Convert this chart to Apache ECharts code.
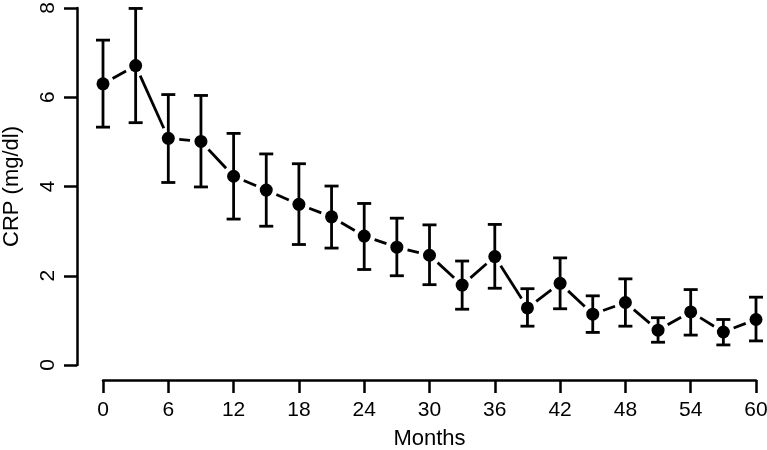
<!DOCTYPE html>
<html>
<head>
<meta charset="utf-8">
<script src="https://cdn.jsdelivr.net/npm/echarts@6/dist/echarts.min.js"></script>
<style>html,body{margin:0;padding:0;background:#fff}#c{width:767px;height:450px}</style>
</head>
<body>
<div id="c"></div>
<script>
const months = [0,3,6,9,12,15,18,21,24,27,30,33,36,39,42,45,48,51,54,57,60];
const crp    = [6.30,6.71,5.08,5.01,4.23,3.92,3.60,3.32,2.89,2.64,2.46,1.79,2.43,1.28,1.83,1.14,1.40,0.78,1.19,0.74,1.02];
const upper  = [7.28,7.99,6.06,6.04,5.19,4.73,4.51,4.01,3.62,3.29,3.14,2.33,3.15,1.71,2.40,1.55,1.93,1.06,1.69,1.02,1.52];
const lower  = [5.33,5.43,4.09,3.99,3.27,3.11,2.70,2.62,2.14,2.00,1.80,1.25,1.72,0.87,1.26,0.73,0.87,0.51,0.67,0.45,0.54];
const xTicks = [0,6,12,18,24,30,36,42,48,54,60];
const yTicks = [0,2,4,6,8];
const xTitle = 'Months';
const yTitle = 'CRP (mg/dl)';

const FONT = '"Liberation Sans", Arial, Helvetica, sans-serif';
const segData = [];
for (let i = 0; i < months.length - 1; i++) segData.push([months[i], crp[i], months[i+1], crp[i+1]]);
const barData = months.map((m, i) => [m, lower[i], upper[i]]);
const ptData = months.map((m, i) => [m, crp[i]]);

const chart = echarts.init(document.getElementById('c'));
const axisCommon = {
  axisLine: {show: true, onZero: false, lineStyle: {color: '#000', width: 2.5}},
  axisTick: {show: true, length: 13, lineStyle: {color: '#000', width: 2.5}},
  splitLine: {show: false},
  nameLocation: 'middle',
  nameTextStyle: {color: '#000', fontSize: 22, fontFamily: FONT}
};
chart.setOption({
  animation: false,
  backgroundColor: '#fff',
  grid: {left: 103, right: 11, top: 8, bottom: 85, containLabel: false, outerBoundsMode: 'none'},
  xAxis: Object.assign({}, axisCommon, {
    type: 'value', min: xTicks[0], max: xTicks[xTicks.length-1], interval: xTicks[1]-xTicks[0],
    position: 'bottom', offset: 15, name: xTitle, nameGap: 48,
    axisLabel: {color: '#000', fontSize: 21, fontFamily: FONT, margin: 20}
  }),
  yAxis: Object.assign({}, axisCommon, {
    type: 'value', min: yTicks[0], max: yTicks[yTicks.length-1], interval: yTicks[1]-yTicks[0],
    position: 'left', offset: 26, name: yTitle, nameGap: 54,
    axisLabel: {color: '#000', fontSize: 21, fontFamily: FONT, margin: 18, rotate: 90}
  }),
  series: [
    {
      type: 'custom', clip: false, data: segData,
      renderItem: function (params, api) {
        const p0 = api.coord([api.value(0), api.value(1)]);
        const p1 = api.coord([api.value(2), api.value(3)]);
        const dx = p1[0]-p0[0], dy = p1[1]-p0[1];
        const len = Math.sqrt(dx*dx+dy*dy);
        const g = 11;
        if (len <= 2*g) return null;
        const ux = dx/len, uy = dy/len;
        return {type: 'line', shape: {x1: p0[0]+ux*g, y1: p0[1]+uy*g, x2: p1[0]-ux*g, y2: p1[1]-uy*g},
          style: {stroke: '#000', lineWidth: 2.8}};
      }
    },
    {
      type: 'custom', clip: false, data: barData,
      renderItem: function (params, api) {
        const lo = api.coord([api.value(0), api.value(1)]);
        const hi = api.coord([api.value(0), api.value(2)]);
        const w = 7;
        const st = {stroke: '#000', lineWidth: 2.8};
        return {type: 'group', children: [
          {type: 'line', shape: {x1: lo[0], y1: lo[1], x2: hi[0], y2: hi[1]}, style: st},
          {type: 'line', shape: {x1: lo[0]-w, y1: lo[1], x2: lo[0]+w, y2: lo[1]}, style: st},
          {type: 'line', shape: {x1: hi[0]-w, y1: hi[1], x2: hi[0]+w, y2: hi[1]}, style: st}
        ]};
      }
    },
    {
      type: 'scatter', data: ptData, symbol: 'circle', symbolSize: 13,
      itemStyle: {color: '#000', opacity: 1}, z: 5
    }
  ]
});
</script>
</body>
</html>
